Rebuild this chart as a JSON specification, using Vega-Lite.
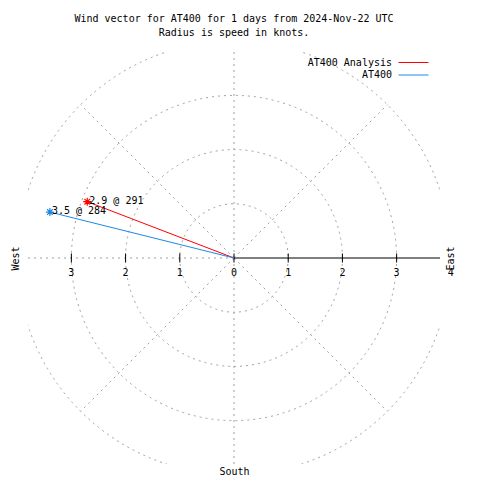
{
  "$schema": "https://vega.github.io/schema/vega-lite/v6.json",
  "width": 412,
  "height": 412,
  "autosize": {"type": "none"},
  "padding": {"left": 28, "top": 52, "right": 40, "bottom": 16},
  "background": "white",
  "config": {
    "view": {"stroke": null},
    "font": "DejaVu Sans Mono",
    "axis": {"titleFont": "DejaVu Sans Mono", "titleFontSize": 10, "titleFontWeight": "normal", "titleColor": "black", "labels": false, "ticks": false, "domain": false, "grid": false}
  },
  "title": {
    "text": ["Wind vector for AT400 for 1 days from 2024-Nov-22 UTC", "Radius is speed in knots."],
    "font": "DejaVu Sans Mono", "fontSize": 10, "fontWeight": "normal", "color": "black",
    "anchor": "middle", "frame": "group", "lineHeight": 14, "offset": 14
  },
  "datasets": {
    "circles": [{"r": 1}, {"r": 2}, {"r": 3}, {"r": 4}],
    "spokes": [
      {"x": 0, "y": 0, "x2": 2.828, "y2": 2.828}, {"x": 0, "y": 0, "x2": 0, "y2": 4}, {"x": 0, "y": 0, "x2": -2.828, "y2": 2.828}, {"x": 0, "y": 0, "x2": -4, "y2": 0},
      {"x": 0, "y": 0, "x2": -2.828, "y2": -2.828}, {"x": 0, "y": 0, "x2": 0, "y2": -4}, {"x": 0, "y": 0, "x2": 2.828, "y2": -2.828}
    ],
    "axisline": [{"x": 0, "y": 0, "x2": 3.8, "y2": 0}],
    "ticks": [{"v": -3}, {"v": -2}, {"v": -1}, {"v": 0}, {"v": 1}, {"v": 2}, {"v": 3}],
    "ticklabels": [
      {"v": -3, "t": "3"}, {"v": -2, "t": "2"}, {"v": -1, "t": "1"}, {"v": 0, "t": "0"},
      {"v": 1, "t": "1"}, {"v": 2, "t": "2"}, {"v": 3, "t": "3"}, {"v": 4, "t": "4"}
    ],
    "wind": [
      {"series": "AT400 Analysis", "speed": 2.9, "dir": 291, "x0": 0, "y0": 0, "u": -2.707, "v": 1.039, "label": "2.9 @ 291"},
      {"series": "AT400", "speed": 3.5, "dir": 284, "x0": 0, "y0": 0, "u": -3.396, "v": 0.847, "label": "3.5 @ 284"}
    ]
  },
  "resolve": {"axis": {"x": "independent", "y": "independent"}},
  "layer": [
    {
      "data": {"name": "circles"},
      "mark": {"type": "point", "shape": "circle", "filled": false, "clip": true, "color": "#a0a0a0", "opacity": 1, "strokeWidth": 1, "strokeDash": [2, 4]},
      "encoding": {
        "x": {"datum": 0, "type": "quantitative", "scale": {"domain": [-3.8, 3.8], "nice": false, "zero": false}, "axis": null},
        "y": {"datum": 0, "type": "quantitative", "scale": {"domain": [-3.8, 3.8], "nice": false, "zero": false}, "axis": null},
        "size": {"field": "r", "type": "quantitative", "scale": {"type": "pow", "exponent": 2, "domain": [0, 4], "range": [0, 188082]}, "legend": null}
      }
    },
    {
      "data": {"name": "spokes"},
      "mark": {"type": "rule", "clip": true, "color": "#a0a0a0", "strokeWidth": 1, "strokeDash": [2, 4]},
      "encoding": {
        "x": {"field": "x", "type": "quantitative", "scale": {"domain": [-3.8, 3.8], "nice": false, "zero": false}, "axis": null},
        "y": {"field": "y", "type": "quantitative", "scale": {"domain": [-3.8, 3.8], "nice": false, "zero": false}, "axis": null},
        "x2": {"field": "x2"},
        "y2": {"field": "y2"}
      }
    },
    {
      "data": {"name": "axisline"},
      "mark": {"type": "rule", "clip": true, "color": "black", "strokeWidth": 1},
      "encoding": {
        "x": {"field": "x", "type": "quantitative", "scale": {"domain": [-3.8, 3.8], "nice": false, "zero": false}, "axis": {"title": "South", "orient": "bottom", "titlePadding": 2}},
        "y": {"field": "y", "type": "quantitative", "scale": {"domain": [-3.8, 3.8], "nice": false, "zero": false}, "axis": null},
        "x2": {"field": "x2"},
        "y2": {"field": "y2"}
      }
    },
    {
      "data": {"name": "ticks"},
      "mark": {"type": "tick", "orient": "vertical", "color": "black", "size": 9, "thickness": 1, "opacity": 1},
      "encoding": {
        "x": {"field": "v", "type": "quantitative", "scale": {"domain": [-3.8, 3.8], "nice": false, "zero": false}, "axis": null},
        "y": {"datum": 0, "type": "quantitative", "scale": {"domain": [-3.8, 3.8], "nice": false, "zero": false}, "axis": {"title": "West", "orient": "left", "titlePadding": 8}}
      }
    },
    {
      "data": {"name": "ticklabels"},
      "mark": {"type": "text", "clip": false, "color": "black", "font": "DejaVu Sans Mono", "fontSize": 10, "align": "center", "baseline": "middle", "dy": 15},
      "encoding": {
        "x": {"field": "v", "type": "quantitative", "scale": {"domain": [-3.8, 3.8], "nice": false, "zero": false}, "axis": null},
        "y": {"datum": 0, "type": "quantitative", "scale": {"domain": [-3.8, 3.8], "nice": false, "zero": false}, "axis": {"title": "East", "orient": "right", "titleAngle": 270, "titlePadding": 15}},
        "text": {"field": "t"}
      }
    },
    {
      "data": {"name": "wind"},
      "mark": {"type": "rule", "strokeWidth": 1},
      "encoding": {
        "x": {"field": "x0", "type": "quantitative", "scale": {"domain": [-3.8, 3.8], "nice": false, "zero": false}, "axis": null},
        "y": {"field": "y0", "type": "quantitative", "scale": {"domain": [-3.8, 3.8], "nice": false, "zero": false}, "axis": null},
        "x2": {"field": "u"},
        "y2": {"field": "v"},
        "color": {"field": "series", "type": "nominal", "scale": {"domain": ["AT400 Analysis", "AT400"], "range": ["#ff0000", "#1e88e5"]},
          "legend": {"title": null, "orient": "none", "legendX": 380, "legendY": 5, "symbolType": "M-3,0L3,0", "symbolSize": 100, "symbolStrokeWidth": 1, "labelAlign": "right", "labelOffset": -27, "labelFont": "DejaVu Sans Mono", "labelFontSize": 10, "labelColor": "black", "rowPadding": 1.5, "padding": 0,
            "encode": {"symbols": {"update": {"stroke": {"scale": "color", "field": "value"}, "strokeWidth": {"value": 1}, "strokeOpacity": {"value": 1}, "opacity": {"value": 1}, "fill": {"value": "transparent"}}}}}}
      }
    },
    {
      "data": {"name": "wind"},
      "mark": {"type": "point", "shape": "M-1,0H1M0,-1V1M-0.7,-0.7L0.7,0.7M-0.7,0.7L0.7,-0.7", "filled": false, "size": 64, "strokeWidth": 1.2, "opacity": 1},
      "encoding": {
        "x": {"field": "u", "type": "quantitative", "scale": {"domain": [-3.8, 3.8], "nice": false, "zero": false}, "axis": null},
        "y": {"field": "v", "type": "quantitative", "scale": {"domain": [-3.8, 3.8], "nice": false, "zero": false}, "axis": null},
        "color": {"field": "series", "type": "nominal", "scale": {"domain": ["AT400 Analysis", "AT400"], "range": ["#ff0000", "#1e88e5"]},
          "legend": {"title": null, "orient": "none", "legendX": 380, "legendY": 5, "symbolType": "M-3,0L3,0", "symbolSize": 100, "symbolStrokeWidth": 1, "labelAlign": "right", "labelOffset": -27, "labelFont": "DejaVu Sans Mono", "labelFontSize": 10, "labelColor": "black", "rowPadding": 1.5, "padding": 0,
            "encode": {"symbols": {"update": {"stroke": {"scale": "color", "field": "value"}, "strokeWidth": {"value": 1}, "strokeOpacity": {"value": 1}, "opacity": {"value": 1}, "fill": {"value": "transparent"}}}}}}
      }
    },
    {
      "data": {"name": "wind"},
      "mark": {"type": "text", "align": "left", "baseline": "middle", "dx": 2, "dy": -1, "color": "black", "font": "DejaVu Sans Mono", "fontSize": 10},
      "encoding": {
        "x": {"field": "u", "type": "quantitative", "scale": {"domain": [-3.8, 3.8], "nice": false, "zero": false}, "axis": null},
        "y": {"field": "v", "type": "quantitative", "scale": {"domain": [-3.8, 3.8], "nice": false, "zero": false}, "axis": null},
        "text": {"field": "label"}
      }
    }
  ]
}
